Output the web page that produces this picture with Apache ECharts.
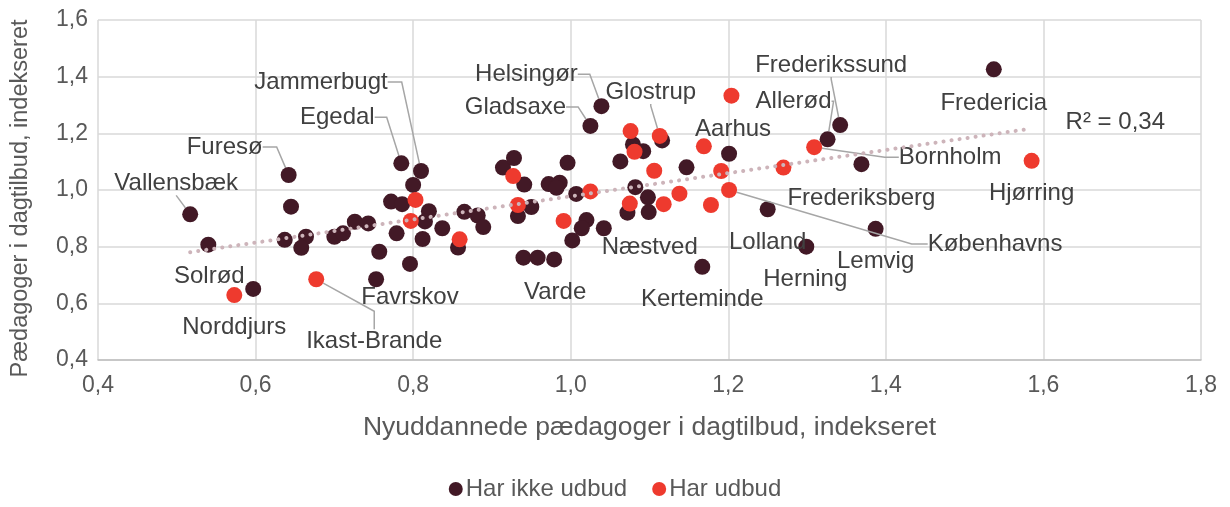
<!DOCTYPE html>
<html>
<head>
<meta charset="utf-8">
<script src="https://cdn.jsdelivr.net/npm/echarts@6/dist/echarts.min.js"></script>
<style>
  html, body { margin: 0; padding: 0; background: #fff; }
  #main { width: 1230px; height: 507px; }
</style>
</head>
<body>
<div id="main"></div>
<script>
// Har ikke udbud
var darkX = [0.517, 0.540, 0.597, 0.642, 0.645, 0.637, 0.664, 0.658, 0.700, 0.711,
             0.726, 0.743, 0.757, 0.753, 0.785, 0.810, 0.800, 0.772, 0.786, 0.820,
             0.815, 0.779, 0.812, 0.837, 0.796, 0.857, 0.865, 0.882, 0.889, 0.914,
             0.928, 0.941, 0.950, 0.933, 0.972, 0.986, 0.982, 0.996, 1.007, 1.020,
             1.014, 1.002, 1.042, 0.940, 0.958, 0.979, 1.025, 1.039, 1.116, 1.079,
             1.092, 1.063, 1.147, 1.201, 1.082, 1.098, 1.072, 1.099, 1.250, 1.167,
             1.326, 1.342, 1.369, 1.387, 1.299, 1.537];
var darkY = [0.914, 0.807, 0.651, 1.053, 0.941, 0.824, 0.835, 0.796, 0.835, 0.847,
             0.888, 0.882, 0.782, 0.685, 1.094, 1.067, 1.018, 0.959, 0.950, 0.925,
             0.889, 0.847, 0.827, 0.865, 0.739, 0.797, 0.923, 0.910, 0.869, 1.079,
             1.113, 1.019, 0.940, 0.908, 1.021, 1.026, 1.008, 1.096, 0.986, 0.894,
             0.865, 0.822, 0.865, 0.761, 0.761, 0.755, 1.226, 1.296, 1.175, 1.161,
             1.137, 1.101, 1.080, 1.128, 1.010, 0.974, 0.920, 0.922, 0.932, 0.729,
             1.179, 1.229, 1.091, 0.863, 0.800, 1.426];
var darkNames = ['Vallensbæk', 'Solrød', '', 'Furesø', '', '', '', '', '', '',
                 '', '', '', '', 'Egedal', 'Jammerbugt', '', '', '', '',
                 '', '', '', '', 'Favrskov', '', '', '', '', '',
                 '', '', '', '', '', '', '', '', '', '',
                 '', '', '', '', '', 'Varde', 'Gladsaxe', 'Helsingør', '', '',
                 '', '', '', 'Aarhus', '', '', '', 'Næstved', 'Lolland', 'Kerteminde',
                 'Allerød', 'Frederikssund', 'Frederiksberg', 'Lemvig', 'Herning', 'Fredericia'];

// Har udbud
var redX = [0.573, 0.677, 0.803, 0.797, 0.859, 0.927, 0.933, 0.991, 1.025, 1.076,
            1.113, 1.081, 1.204, 1.169, 1.106, 1.191, 1.270, 1.309, 1.585, 1.138,
            1.201, 1.075, 1.118, 1.178];
var redY = [0.629, 0.685, 0.965, 0.891, 0.826, 1.049, 0.947, 0.891, 0.995, 1.208,
            1.191, 1.135, 1.333, 1.154, 1.068, 1.067, 1.079, 1.151, 1.103, 0.987,
            1.000, 0.952, 0.950, 0.947];
var redNames = ['Norddjurs', 'Ikast-Brande', '', '', '', '', '', '', '', '',
                'Glostrup', '', '', '', '', '', '', 'Bornholm', 'Hjørring', '',
                'Københavns', '', '', ''];

var seriesNames = ['Har ikke udbud', 'Har udbud'];
var r2Text = 'R² = 0,34';

// placering af labels: [dx, dy, leader line, length2]
var labelPos = {
    'Vallensbæk': [-14, -31, true, 0],
    'Solrød': [1, 32, false],
    'Furesø': [-64, -28, true, 14],
    'Egedal': [-64, -46, true, 12],
    'Jammerbugt': [-100, -89, true, 14],
    'Favrskov': [0, 33, false],
    'Varde': [1, 33, false],
    'Gladsaxe': [-75, -19, true, 12],
    'Helsingør': [-75, -32, true, 12],
    'Aarhus': [4, -24, false],
    'Næstved': [1, 35, false],
    'Lolland': [0, 33, false],
    'Kerteminde': [0, 33, false],
    'Allerød': [-34, -38, true, 2],
    'Frederikssund': [-9, -60, true, 2],
    'Frederiksberg': [0, 34, false],
    'Lemvig': [0, 33, false],
    'Herning': [-1, 33, false],
    'Fredericia': [0, 34, false],
    'Norddjurs': [0, 32, false],
    'Ikast-Brande': [58, 62, true, 18],
    'Glostrup': [-9, -44, true, 2],
    'Bornholm': [136, 10, true, 14],
    'Hjørring': [0, 33, false],
    'Københavns': [266, 54, true, 16]
};

var textColor = '#404040';
var axisColor = '#595959';

function buildData(xs, ys, names) {
    var out = [];
    for (var i = 0; i < xs.length; i++) {
        var item = {name: names[i], value: [xs[i], ys[i]]};
        if (names[i]) {
            item.label = {show: true};
            var o = labelPos[names[i]];
            if (o && o[2]) {
                item.labelLine = {show: true, length2: o[3]};
            }
        }
        out.push(item);
    }
    return out;
}

// lineær trendlinje over alle kommuner
var allX = darkX.concat(redX);
var allY = darkY.concat(redY);
var n = allX.length, sx = 0, sy = 0, sxx = 0, sxy = 0;
for (var i = 0; i < n; i++) {
    sx += allX[i]; sy += allY[i];
    sxx += allX[i] * allX[i]; sxy += allX[i] * allY[i];
}
var slope = (n * sxy - sx * sy) / (n * sxx - sx * sx);
var icpt = (sy - slope * sx) / n;
var xMin = Math.min.apply(null, allX), xMax = Math.max.apply(null, allX);
var trend = [[xMin, icpt + slope * xMin], [xMax, icpt + slope * xMax]];

var fmt = function (v) { return v.toFixed(1).replace('.', ','); };

var pointLabel = {
    show: false,
    formatter: '{b}',
    position: 'inside',
    color: textColor,
    fontSize: 24
};

var labelLayoutFn = function (p) {
    var o = labelPos[p.text];
    return o ? {dx: o[0], dy: o[1]} : {};
};

var chart = echarts.init(document.getElementById('main'));
chart.setOption({
    animation: false,
    textStyle: {fontFamily: 'Liberation Sans, Arial, sans-serif'},
    grid: {left: 98, right: 29, top: 20, bottom: 147},
    legend: {
        data: seriesNames,
        bottom: 1,
        left: 'center',
        icon: 'circle',
        itemWidth: 14,
        itemHeight: 14,
        itemGap: 25,
        textStyle: {color: axisColor, fontSize: 24, padding: [0, 0, 0, -2]}
    },
    xAxis: {
        type: 'value',
        min: 0.4, max: 1.8, interval: 0.2,
        name: 'Nyuddannede pædagoger i dagtilbud, indekseret',
        nameLocation: 'middle',
        nameGap: 54,
        nameTextStyle: {color: axisColor, fontSize: 26.5},
        axisLine: {show: true, lineStyle: {color: '#bfbfbf', width: 1.5}},
        axisTick: {show: false},
        axisLabel: {color: axisColor, fontSize: 23, margin: 14, formatter: fmt},
        splitLine: {show: true, lineStyle: {color: '#d9d9d9', width: 1.5}}
    },
    yAxis: {
        type: 'value',
        min: 0.4, max: 1.6, interval: 0.2,
        name: 'Pædagoger i dagtilbud, indekseret',
        nameLocation: 'middle',
        nameGap: 65,
        nameTextStyle: {color: axisColor, fontSize: 23.5, padding: [0, 17, 0, 0]},
        axisLine: {show: false},
        axisTick: {show: false},
        axisLabel: {color: axisColor, fontSize: 23, margin: 10, formatter: fmt},
        splitLine: {show: true, lineStyle: {color: '#d9d9d9', width: 1.5}}
    },
    series: [
        {
            name: seriesNames[0],
            type: 'scatter',
            symbolSize: 16,
            itemStyle: {color: '#421926', opacity: 1},
            data: buildData(darkX, darkY, darkNames),
            label: pointLabel,
            labelLine: {show: false, length2: 14, lineStyle: {color: '#a6a6a6', width: 1.5}},
            labelLayout: labelLayoutFn,
            z: 2
        },
        {
            name: seriesNames[1],
            type: 'scatter',
            symbolSize: 16,
            itemStyle: {color: '#ee3a2e', opacity: 1},
            data: buildData(redX, redY, redNames),
            label: pointLabel,
            labelLine: {show: false, length2: 14, lineStyle: {color: '#a6a6a6', width: 1.5}},
            labelLayout: labelLayoutFn,
            z: 3
        },
        {
            name: 'Trend',
            type: 'line',
            data: trend,
            symbol: 'none',
            silent: true,
            lineStyle: {color: '#cdb4ba', width: 4, type: [0.1, 8], cap: 'round'},
            endLabel: {show: true, formatter: r2Text, color: textColor, fontSize: 24, offset: [26, -6]},
            z: 4
        }
    ]
});
</script>
</body>
</html>
